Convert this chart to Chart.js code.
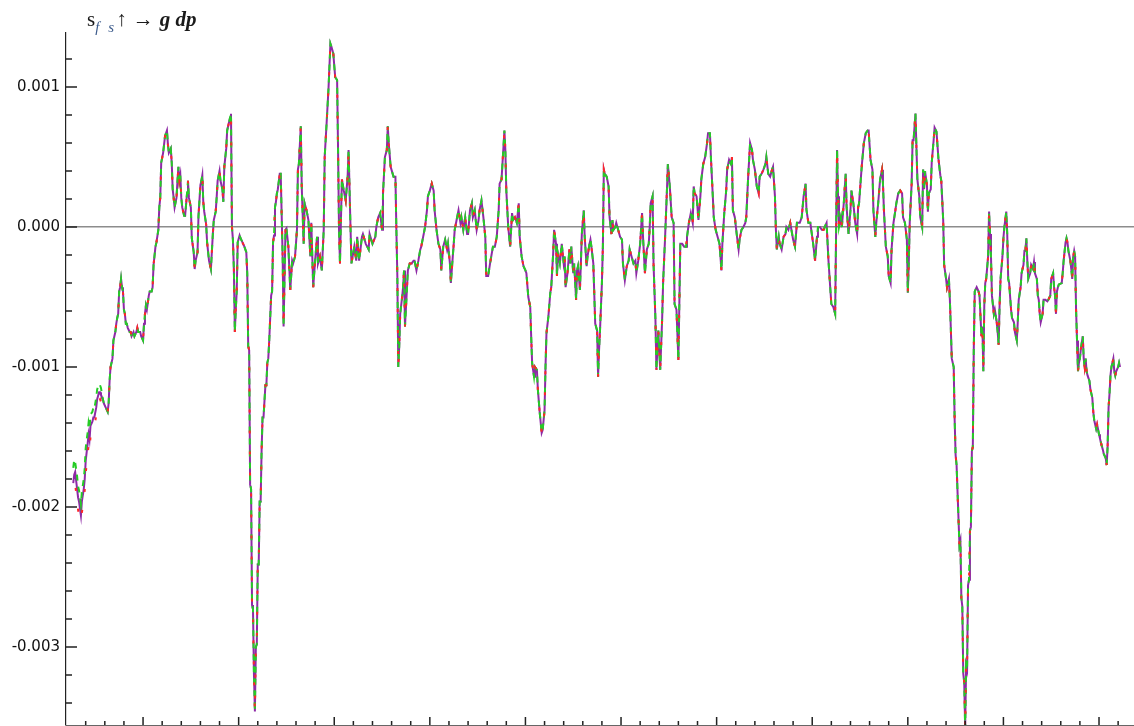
<!DOCTYPE html>
<html>
<head>
<meta charset="utf-8">
<script src="https://cdn.jsdelivr.net/npm/chart.js@4.4.0/dist/chart.umd.min.js"></script>
<style>
  html, body { margin: 0; padding: 0; background: #fff; }
  #wrap { position: relative; width: 1134px; height: 726px; }
  #dp-title {
    position: absolute; left: 87px; top: 7px;
    font-family: 'Liberation Serif', 'DejaVu Serif', serif;
    font-size: 21px; line-height: 24px; color: #1a1a1a; white-space: nowrap;
  }
  #dp-title sub { font-style: italic; font-size: 15px; color: #3d5c8c; vertical-align: -6px; }
  #dp-title .sub2 { margin-left: 9px; }
  #dp-title .up { margin-left: 2px; }
  #dp-title .to { margin: 0 6px; }
  #dp-title .gdp { font-style: italic; font-weight: bold; }
</style>
</head>
<body>
<div id="wrap">
  <canvas id="dp-chart" width="1134" height="726"></canvas>
  <div id="dp-title">s<sub>f</sub><sub class="sub2">s</sub><span class="up">↑</span><span class="to">→</span><span class="gdp">g dp</span></div>
</div>
<script>
// sample index of each plotted value
const sampleX = [
  27,28,29,31,32,33,35,36,38,39,40,41,
  42,43,44,45,47,48,49,51,52,54,55,56,
  58,59,61,63,64,65,66,68,69,70,71,72,
  73,74,75,76,77,78,79,80,81,82,83,84,
  86,87,88,90,91,93,94,95,97,98,100,101,
  102,103,104,106,107,109,110,111,113,114,116,117,
  118,119,121,122,123,125,126,127,129,130,131,132,
  133,135,136,137,138,139,140,141,143,144,146,147,
  148,150,151,153,154,155,157,158,160,161,162,163,
  164,166,167,169,170,171,173,174,176,177,178,180,
  181,183,184,185,187,188,190,191,192,193,194,195,
  196,197,198,199,201,202,204,206,208,209,210,211,
  212,213,214,215,216,217,218,219,220,221,222,223,
  224,225,226,228,229,230,231,232,234,235,236,237,
  238,239,240,241,243,244,246,247,249,250,252,254,
  256,257,259,261,262,263,265,266,268,269,271,273,
  275,276,278,280,282,283,285,287,289,290,292,294,
  296,297,299,301,303,304,305,306,307,308,310,312,
  314,315,317,318,321,323,324,326,329,330,333,336,
  337,340,343,344,346,348,350,351,353,355,356,357,
  359,362,364,365,366,367,368,369,371,372,373,374,
  376,377,379,381,383,384,386,388,390,391,393,395,
  397,398,400,402,404,405,407,409,411,412,414,416,
  418,419,421,422,424,425,426,428,430,432,433,435,
  437,439,440,442,444,445,447,449,451,452,454,456,
  458,459,461,463,466,468,470,472,473,475,477,478,
  479,480,482,484,486,487,489,491,493,494,496,498,
  500,501,503,505,506,507,509,510,512,513,515,517,
  518,520,521,522,524,526,527,529,530,532,533,534,
  536,538,540,541,542,544,546,547,548,550,551,553,
  554,555,557,558,559,561,562,564,565,567,568,569,
  571,573,575,576,577,578,580,581,582,583,585,587,
  588,590,591,592,594,595,597,599,601,602,604,606,
  608,609,611,613,615,616,618,620,622,623,625,627,
  629,630,631,633,634,636,637,639,641,643,644,646,
  648,649,651,653,655,656,658,660,661,662,664,666,
  668,669,671,673,675,676,677,679,681,683,684,686,
  688,690,691,693,694,696,697,699,701,703,704,705,
  706,708,710,711,713,715,716,717,719,721,723,724,
  726,728,730,731,733,735,737,738,740,742,744,745,
  747,749,751,752,754,756,758,759,761,762,763,765,
  766,768,770,772,773,775,777,779,780,782,784,785,
  787,789,791,792,793,794,796,798,799,801,803,805,
  806,808,810,812,813,815,817,819,820,822,824,825,
  826,827,828,830,831,833,835,836,838,840,841,843,
  845,847,848,849,851,852,854,856,858,859,861,863,
  864,866,867,869,871,873,874,875,877,879,880,882,
  883,885,887,888,890,892,894,895,897,899,900,901,
  902,904,905,906,908,909,910,912,913,915,916,917,
  918,920,921,922,924,925,927,928,930,932,934,935,
  937,938,940,941,943,944,946,948,949,950,951,952,
  954,955,956,957,958,959,960,961,962,963,964,965,
  966,967,968,969,970,972,974,975,977,978,979,980,
  981,982,984,985,986,987,988,990,991,993,994,995,
  996,997,999,1000,1001,1003,1004,1005,1006,1008,1009,1011,
  1012,1014,1015,1016,1018,1019,1021,1022,1023,1024,1025,1026,
  1028,1029,1031,1032,1033,1035,1036,1037,1038,1039,1041,1042,
  1044,1046,1047,1049,1050,1052,1053,1054,1055,1056,1057,1058,
  1061,1062,1063,1065,1066,1067,1068,1070,1071,1072,1073,1074,
  1075,1076,1077,1078,1079,1080,1081,1083,1084,1085,1086,1087,
  1088,1090,1091,1093,1094,1095,1097,1098,1100,1101,1102,1104,
  1105,1107,1108,1109,1110,1111,1112,1113,1114,1115,1116,1117,
  1118,1120,1121,1122
];

// g dp values (purple trace), one per sampleX
const dpValues = [
  -0.00183,-0.00177,-0.00175,-0.00187,-0.00193,-0.00196,-0.00206,-0.00196,-0.00187,-0.00180,-0.00167,-0.00161,
  -0.00155,-0.00148,-0.00152,-0.00142,-0.00139,-0.00136,-0.00136,-0.00129,-0.00123,-0.00118,-0.00118,-0.00120,
  -0.00123,-0.00126,-0.00129,-0.00132,-0.00126,-0.00110,-0.00100,-0.00094,-0.00081,-0.00078,-0.00075,-0.00069,
  -0.00065,-0.00062,-0.00046,-0.00043,-0.00037,-0.00043,-0.00046,-0.00059,-0.00062,-0.00069,-0.00069,-0.00072,
  -0.00075,-0.00075,-0.00078,-0.00075,-0.00078,-0.00075,-0.00072,-0.00075,-0.00075,-0.00078,-0.00081,-0.00069,
  -0.00062,-0.00056,-0.00059,-0.00049,-0.00046,-0.00046,-0.00043,-0.00027,-0.00014,-0.00011,-0.00002,0.00014,
  0.00021,0.00046,0.00053,0.00059,0.00065,0.00069,0.00059,0.00053,0.00056,0.00046,0.00027,0.00021,
  0.00014,0.00021,0.00033,0.00043,0.00033,0.00037,0.00021,0.00014,0.00008,0.00008,0.00024,0.00033,
  0.00021,0.00014,-0.00008,-0.00018,-0.00030,-0.00024,-0.00018,0.00008,0.00030,0.00033,0.00037,0.00018,
  0.00011,0.00002,-0.00011,-0.00024,-0.00027,-0.00030,-0.00005,0.00005,0.00011,0.00021,0.00033,0.00040,
  0.00033,0.00027,0.00018,0.00043,0.00056,0.00069,0.00075,0.00078,0.00081,0.00000,-0.00009,-0.00030,
  -0.00075,-0.00059,-0.00046,-0.00011,-0.00006,-0.00008,-0.00011,-0.00014,-0.00018,-0.00033,-0.00085,-0.00088,
  -0.00184,-0.00187,-0.00270,-0.00273,-0.00319,-0.00346,-0.00300,-0.00298,-0.00241,-0.00241,-0.00196,-0.00196,
  -0.00160,-0.00136,-0.00136,-0.00113,-0.00113,-0.00097,-0.00094,-0.00081,-0.00049,-0.00046,-0.00011,-0.00006,
  0.00014,0.00018,0.00024,0.00027,0.00038,0.00038,-0.00020,-0.00071,-0.00002,-0.00001,-0.00014,-0.00045,
  -0.00024,-0.00026,-0.00021,-0.00002,0.00041,0.00045,0.00072,0.00029,-0.00012,0.00017,0.00012,0.00005,
  -0.00021,0.00003,-0.00043,-0.00024,-0.00007,-0.00026,-0.00021,-0.00031,-0.00002,0.00050,0.00074,0.00099,
  0.00131,0.00129,0.00124,0.00107,0.00105,0.00055,-0.00002,-0.00026,0.00005,0.00034,0.00026,0.00019,
  0.00036,0.00055,0.00000,-0.00026,-0.00014,-0.00024,-0.00007,-0.00024,-0.00007,-0.00005,-0.00012,-0.00016,
  -0.00005,-0.00012,-0.00007,0.00000,0.00007,0.00010,-0.00002,0.00024,0.00050,0.00055,0.00072,0.00060,
  0.00043,0.00036,0.00036,-0.00002,-0.00035,-0.00100,-0.00085,-0.00062,-0.00050,-0.00043,-0.00031,-0.00071,
  -0.00045,-0.00031,-0.00026,-0.00026,-0.00024,-0.00024,-0.00031,-0.00024,-0.00016,-0.00014,-0.00007,0.00000,
  0.00012,0.00022,0.00026,0.00031,0.00026,0.00012,-0.00002,-0.00012,-0.00016,-0.00031,-0.00014,-0.00009,
  -0.00016,-0.00012,-0.00026,-0.00040,-0.00021,-0.00012,-0.00002,0.00005,0.00012,0.00003,0.00007,-0.00002,
  0.00007,-0.00005,-0.00005,0.00012,0.00017,0.00007,0.00012,-0.00002,0.00005,0.00012,0.00019,0.00007,
  -0.00007,-0.00035,-0.00035,-0.00026,-0.00014,-0.00014,-0.00007,0.00012,0.00031,0.00034,0.00057,0.00069,
  0.00055,0.00026,0.00000,-0.00014,0.00010,0.00005,0.00007,0.00003,0.00017,-0.00007,-0.00021,-0.00028,
  -0.00031,-0.00033,-0.00050,-0.00057,-0.00078,-0.00097,-0.00107,-0.00100,-0.00102,-0.00116,-0.00133,-0.00147,
  -0.00145,-0.00131,-0.00100,-0.00076,-0.00064,-0.00047,-0.00043,-0.00019,-0.00002,-0.00012,-0.00035,-0.00019,
  -0.00026,-0.00012,-0.00026,-0.00021,-0.00043,-0.00033,-0.00016,-0.00026,-0.00014,-0.00033,-0.00026,-0.00052,
  -0.00031,-0.00028,-0.00045,-0.00026,-0.00005,0.00012,-0.00007,-0.00028,-0.00021,-0.00012,-0.00009,-0.00014,
  -0.00026,-0.00069,-0.00074,-0.00107,-0.00088,-0.00074,-0.00040,-0.00014,0.00041,0.00038,0.00036,0.00029,
  0.00007,-0.00005,0.00005,-0.00002,0.00000,0.00003,-0.00002,-0.00007,-0.00009,-0.00026,-0.00038,-0.00028,
  -0.00024,-0.00016,-0.00021,-0.00026,-0.00024,-0.00033,-0.00024,-0.00012,0.00010,-0.00007,-0.00033,-0.00016,
  -0.00012,0.00000,0.00017,0.00022,-0.00026,-0.00066,-0.00102,-0.00074,-0.00102,-0.00066,-0.00040,-0.00009,
  0.00026,0.00045,0.00029,0.00007,0.00003,-0.00055,-0.00059,-0.00095,-0.00055,-0.00012,-0.00012,-0.00014,
  -0.00014,-0.00007,0.00003,0.00010,0.00003,0.00029,0.00024,0.00022,0.00005,0.00022,0.00034,0.00045,
  0.00050,0.00060,0.00067,0.00067,0.00050,0.00022,0.00007,-0.00002,-0.00007,-0.00012,-0.00021,-0.00031,
  -0.00012,0.00010,0.00026,0.00041,0.00048,0.00045,0.00050,0.00012,0.00007,-0.00005,-0.00016,-0.00009,
  -0.00002,0.00000,0.00003,0.00007,0.00036,0.00060,0.00055,0.00048,0.00041,0.00029,0.00024,0.00036,
  0.00038,0.00041,0.00045,0.00050,0.00038,0.00036,0.00041,0.00043,0.00022,-0.00002,-0.00016,-0.00007,
  -0.00012,-0.00016,-0.00007,-0.00005,0.00000,-0.00002,0.00003,-0.00005,-0.00009,-0.00014,0.00003,0.00003,
  0.00003,0.00007,0.00022,0.00026,0.00031,0.00012,0.00003,0.00003,-0.00002,-0.00012,-0.00024,-0.00007,
  0.00000,0.00000,-0.00002,-0.00002,0.00000,0.00003,-0.00024,-0.00045,-0.00055,-0.00057,-0.00062,-0.00002,
  0.00055,0.00022,0.00000,0.00007,0.00000,0.00017,0.00038,0.00014,-0.00005,0.00012,0.00026,0.00017,
  0.00003,-0.00005,0.00014,0.00017,0.00036,0.00045,0.00060,0.00067,0.00069,0.00069,0.00048,0.00041,
  0.00012,-0.00007,0.00003,0.00017,0.00034,0.00041,0.00031,0.00012,-0.00014,-0.00021,-0.00035,-0.00040,
  -0.00016,0.00003,0.00012,0.00017,0.00024,0.00026,0.00024,0.00007,0.00003,-0.00009,-0.00047,-0.00026,
  0.00003,0.00031,0.00062,0.00062,0.00081,0.00057,0.00034,0.00022,0.00007,0.00000,0.00041,0.00027,
  0.00040,0.00030,0.00011,0.00024,0.00027,0.00046,0.00062,0.00071,0.00068,0.00049,0.00037,0.00033,
  0.00005,-0.00027,-0.00037,-0.00043,-0.00037,-0.00052,-0.00094,-0.00100,-0.00138,-0.00163,-0.00170,-0.00189,
  -0.00227,-0.00224,-0.00265,-0.00271,-0.00319,-0.00325,-0.00358,-0.00313,-0.00316,-0.00256,-0.00252,-0.00217,
  -0.00214,-0.00160,-0.00157,-0.00087,-0.00046,-0.00043,-0.00046,-0.00049,-0.00078,-0.00071,-0.00103,-0.00056,
  -0.00040,-0.00037,-0.00021,0.00011,-0.00005,-0.00021,-0.00049,-0.00062,-0.00059,-0.00068,-0.00075,-0.00084,
  -0.00056,-0.00037,-0.00021,-0.00008,0.00000,0.00011,-0.00005,-0.00037,-0.00040,-0.00059,-0.00065,-0.00068,
  -0.00075,-0.00081,-0.00068,-0.00052,-0.00043,-0.00033,-0.00027,-0.00017,-0.00017,-0.00008,-0.00024,-0.00037,
  -0.00033,-0.00027,-0.00030,-0.00025,-0.00033,-0.00037,-0.00049,-0.00052,-0.00062,-0.00068,-0.00062,-0.00052,
  -0.00052,-0.00053,-0.00052,-0.00049,-0.00037,-0.00033,-0.00043,-0.00049,-0.00062,-0.00046,-0.00043,-0.00041,
  -0.00040,-0.00033,-0.00024,-0.00011,-0.00008,-0.00011,-0.00017,-0.00024,-0.00030,-0.00037,-0.00021,-0.00017,
  -0.00021,-0.00059,-0.00081,-0.00103,-0.00097,-0.00094,-0.00087,-0.00078,-0.00094,-0.00100,-0.00094,-0.00103,
  -0.00106,-0.00110,-0.00116,-0.00122,-0.00132,-0.00138,-0.00144,-0.00141,-0.00148,-0.00151,-0.00154,-0.00159,
  -0.00162,-0.00165,-0.00170,-0.00157,-0.00129,-0.00119,-0.00106,-0.00100,-0.00097,-0.00094,-0.00103,-0.00106,
  -0.00103,-0.00100,-0.00097,-0.00100
];

// the red and green traces only split from the purple one at the very start
const redHead = [
  -0.00190,-0.00185,-0.00184,-0.00195,-0.00202,-0.00205,-0.00210,-0.00204,-0.00195,-0.00188,-0.00176,-0.00170,
  -0.00163,-0.00156,-0.00160,-0.00150,-0.00146,-0.00143,-0.00142,-0.00135,-0.00129,-0.00124,-0.00123,-0.00125
];
const greenHead = [
  -0.00172,-0.00166,-0.00168,-0.00178,-0.00185,-0.00188,-0.00198,-0.00189,-0.00180,-0.00172,-0.00158,-0.00152,
  -0.00147,-0.00140,-0.00144,-0.00134,-0.00132,-0.00129,-0.00130,-0.00122,-0.00116,-0.00112,-0.00113,-0.00115
];

const yTickValues = [-0.003, -0.002, -0.001, 0, 0.001];
const yRange = [-0.003557, 0.001386];
const xRange = [19.4, 1136.6];

function toPoints(values) {
  return sampleX.map((x, i) => ({ x, y: values[i] }));
}

// Mathematica-style ticks pointing into the plot
const inwardTicks = {
  id: 'inwardTicks',
  afterDraw(chart) {
    const { ctx, chartArea: area, scales: { x, y } } = chart;
    ctx.save();
    ctx.strokeStyle = '#222';
    ctx.lineWidth = 1.5;
    ctx.beginPath();
    for (let k = -17; k <= 6; k++) {
      const py = y.getPixelForValue(k * 0.0002);
      const len = k % 5 === 0 ? 11 : 6;
      ctx.moveTo(area.left, py);
      ctx.lineTo(area.left + len, py);
    }
    for (let k = 2; k <= 56; k++) {
      const px = x.getPixelForValue(k * 20);
      const len = k % 5 === 0 ? 8 : 4;
      ctx.moveTo(px, area.bottom);
      ctx.lineTo(px, area.bottom - len);
    }
    ctx.stroke();
    ctx.restore();
  }
};

function renderDpChart() {
  const canvas = document.getElementById('dp-chart');
  if (!canvas) return;
  Chart.defaults.font.family = "'DejaVu Sans', sans-serif";

  const redValues = redHead.concat(dpValues.slice(redHead.length));
  const greenValues = greenHead.concat(dpValues.slice(greenHead.length));

  new Chart(canvas, {
    type: 'line',
    data: {
      datasets: [
        { label: 'purple', data: toPoints(dpValues), borderColor: '#8e2aa6', borderWidth: 2, order: 3 },
        { label: 'green', data: toPoints(greenValues), borderColor: '#25cc25', borderWidth: 2, borderDash: [6, 6], order: 2 },
        { label: 'red', data: toPoints(redValues), borderColor: '#ff2626', borderWidth: 2, borderDash: [3, 18], borderDashOffset: 9, order: 1 },
      ],
    },
    options: {
      responsive: false,
      animation: false,
      layout: { padding: { top: 33, right: 0, bottom: 0, left: 0 } },
      elements: { point: { radius: 0 }, line: { tension: 0 } },
      plugins: { legend: { display: false }, tooltip: { enabled: false } },
      scales: {
        x: {
          type: 'linear',
          min: xRange[0],
          max: xRange[1],
          ticks: { display: false },
          grid: { display: false },
          border: { display: true, color: '#666', width: 1 },
          afterFit: s => { s.height = 1; s.paddingLeft = 0; s.paddingRight = 0; },
        },
        y: {
          min: yRange[0],
          max: yRange[1],
          afterBuildTicks: s => { s.ticks = yTickValues.map(v => ({ value: v })); },
          ticks: {
            callback: v => Number(v).toFixed(3),
            color: '#111',
            font: { size: 15 },
            padding: 6,
          },
          grid: {
            color: c => (c.tick && c.tick.value === 0 ? '#8c8c8c' : 'rgba(0,0,0,0)'),
            lineWidth: 1.6,
            drawTicks: false,
          },
          border: { display: true, color: '#222', width: 1.2 },
          afterFit: s => { s.width = 66; s.paddingTop = 0; s.paddingBottom = 0; },
        },
      },
    },
    plugins: [inwardTicks],
  });
}

document.addEventListener('DOMContentLoaded', renderDpChart);
</script>
</body>
</html>
